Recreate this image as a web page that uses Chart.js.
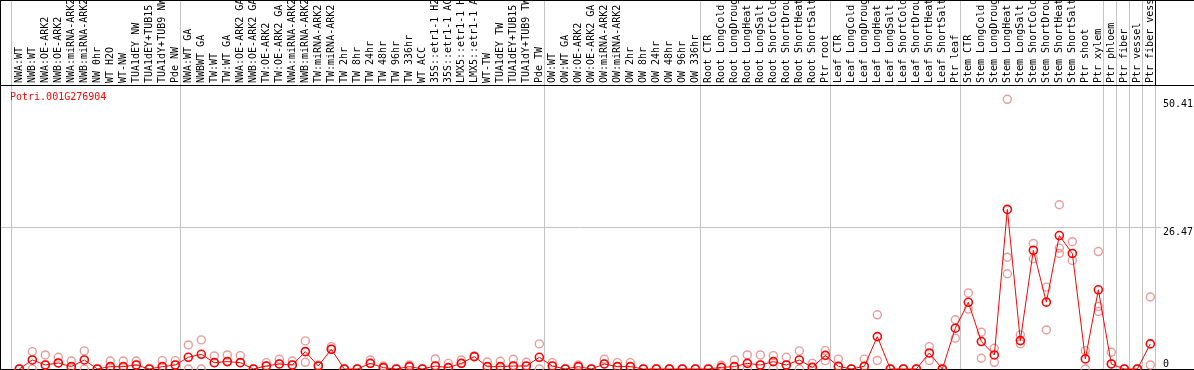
<!DOCTYPE html>
<html>
<head>
<meta charset="utf-8">
<script src="https://cdn.jsdelivr.net/npm/chart.js@4.4.1/dist/chart.umd.min.js"></script>
<style>
  html, body { margin: 0; padding: 0; background: #fff; }
  canvas { display: block; }
</style>
</head>
<body>
<canvas id="chart" width="1194" height="370"></canvas>
<script>
const geneId = 'Potri.001G276904';

const samples = [
  'NWA:WT', 'NWB:WT', 'NWA:OE-ARK2', 'NWB:OE-ARK2', 'NWA:miRNA-ARK2', 'NWB:miRNA-ARK2',
  'NW 0hr', 'WT H2O', 'WT-NW', 'TUA1dEY NW', 'TUA1dEY+TUB15 NW', 'TUA1dY+TUB9 NW', 'Pde NW',
  'NWA:WT GA', 'NWBWT GA', 'TW:WT', 'TW:WT GA', 'NWA:OE-ARK2 GA', 'NWB:OE-ARK2 GA',
  'TW:OE-ARK2', 'TW:OE-ARK2 GA', 'NWA:miRNA-ARK2 GA', 'NWB:miRNA-ARK2 GA', 'TW:miRNA-ARK2',
  'TW:miRNA-ARK2 GA', 'TW 2hr', 'TW 8hr', 'TW 24hr', 'TW 48hr', 'TW 96hr', 'TW 336hr', 'WT ACC',
  '35S::etr1-1 H2O', '35S::etr1-1 ACC', 'LMX5::etr1-1 H2O', 'LMX5::etr1-1 ACC', 'WT-TW',
  'TUA1dEY TW', 'TUA1dEY+TUB15 TW', 'TUA1dY+TUB9 TW', 'Pde TW',
  'OW:WT', 'OW:WT GA', 'OW:OE-ARK2', 'OW:OE-ARK2 GA', 'OW:miRNA-ARK2', 'OW:miRNA-ARK2 GA',
  'OW 2hr', 'OW 8hr', 'OW 24hr', 'OW 48hr', 'OW 96hr', 'OW 336hr',
  'Root CTR', 'Root LongCold', 'Root LongDrought', 'Root LongHeat', 'Root LongSalt',
  'Root ShortCold', 'Root ShortDrought', 'Root ShortHeat', 'Root ShortSalt', 'Ptr root',
  'Leaf CTR', 'Leaf LongCold', 'Leaf LongDrought', 'Leaf LongHeat', 'Leaf LongSalt',
  'Leaf ShortCold', 'Leaf ShortDrought', 'Leaf ShortHeat', 'Leaf ShortSalt', 'Ptr leaf',
  'Stem CTR', 'Stem LongCold', 'Stem LongDrought', 'Stem LongHeat', 'Stem LongSalt',
  'Stem ShortCold', 'Stem ShortDrought', 'Stem ShortHeat', 'Stem ShortSalt', 'Ptr shoot', 'Ptr xylem',
  'Ptr phloem', 'Ptr fiber', 'Ptr vessel', 'Ptr fiber vessel'
];

// first sample index of each group (last entry closes the final group)
const groupStarts = [0, 13, 41, 53, 63, 73, 84, 85, 86, 87, 88];

const meanValues = [
  0, 1.69, 0.75, 1.13, 0.44, 1.69, 0, 0.44, 0.44, 0.75,
  0, 0.44, 0.75, 2.19, 2.75, 1.19, 1.38, 1.19, 0, 0.56,
  0.94, 0.75, 3.25, 0.56, 3.69, 0, 0, 1.06, 0.25, 0,
  0.44, 0, 0.56, 0.25, 1.06, 2.31, 0.44, 0.44, 0.56, 0.56,
  2.19, 0.56, 0, 0.44, 0, 0.94, 0.44, 0.44, 0, 0,
  0, 0, 0, 0, 0.31, 0.44, 1.06, 0.75, 1.38, 0.75,
  1.69, 0.31, 2.55, 0.5, 0, 0.5, 6.06, 0, 0, 0,
  3.0, 0, 7.63, 12.47, 5.13, 2.63, 29.83, 5.31, 22.2, 12.5,
  24.95, 21.6, 1.88, 14.8, 0.94, 0, 0, 4.69
];

const repHigh = [
  0, 3.25, 2.63, 2.19, 1.5, 3.38, 0, 1.5, 1.5, 1.5,
  0, 1.56, 1.56, 4.5, 5.44, 2.44, 2.63, 2.5, 0, 1.19,
  1.81, 1.5, 5.25, 0.75, 4.19, 0, 0, 1.69, 0.56, 0,
  0.75, 0, 1.88, 1.06, 1.69, 2.44, 1.31, 1.44, 1.81, 1.25,
  4.69, 1.19, 0, 0.75, 0, 1.81, 1.19, 1.19, 0, 0,
  0, 0, 0, 0, 0.69, 1.69, 2.63, 2.63, 2.5, 2.19,
  3.38, 1.06, 3.44, 1.85, 0, 1.85, 10.13, 0, 0, 0,
  4.19, 0, 9.2, 14.2, 6.88, 3.88, 50.41, 6.38, 23.45, 15.3,
  30.7, 23.8, 3.44, 21.95, 3.13, 0, 0, 13.45
];

const repLow = [
  0, 0, 0.75, 1.13, 0.44, 0, 0, 0.44, 0.44, 0.75,
  0, 0.44, 0.75, 0, 0, 1.19, 1.38, 1.19, 0, 0.56,
  0.94, 0.75, 1.25, 0.56, 3.69, 0, 0, 1.06, 0.25, 0,
  0.44, 0, 0.56, 0.25, 1.06, 2.31, 0.44, 0.44, 0.56, 0.56,
  0, 0.56, 0, 0.44, 0, 0.94, 0.44, 0.44, 0, 0,
  0, 0, 0, 0, 0.31, 0.44, 0, 0.75, 0, 0.75,
  0, 0.31, 1.56, 0.5, 0, 0.5, 1.6, 0, 0, 0,
  1.6, 0, 5.75, 11.2, 2.0, 1.25, 17.8, 4.69, 20.6, 7.3,
  22.6, 20.3, 0, 11.7, 0.94, 0, 0, 0.75
];

const repThird = [
  null, null, null, null, null, null, null, null, null, null,
  null, null, null, null, null, null, null, null, null, null,
  null, null, null, null, null, null, null, null, null, null,
  null, null, null, null, null, null, null, null, null, null,
  null, null, null, null, null, null, null, null, null, null,
  null, null, null, null, null, null, null, null, null, null,
  null, null, null, null, null, null, null, null, null, null,
  null, null, null, null, null, null, 20.9, null, null, null,
  21.6, null, null, 10.75, null, null, null, null
];

const yTicks = [0, 26.47, 50.41];

// layout constants
const xMin = -1.485;
const xMax = 87.82;
const yMax = 52.9;
const sepShift = -0.62;
const monoFont = '"DejaVu Sans Mono", monospace';

const toPoints = arr => arr
  .map((v, i) => (v === null ? null : { x: i, y: v }))
  .filter(p => p !== null);

const repStyle = {
  showLine: false,
  pointRadius: 4,
  pointBorderWidth: 1.4,
  pointBorderColor: '#eb9b9b',
  pointBackgroundColor: 'rgba(0,0,0,0)',
  clip: false,
  xAxisID: 'x',
  yAxisID: 'y'
};

const noPadding = axis => {
  axis.paddingLeft = 0;
  axis.paddingRight = 0;
  axis.paddingTop = 0;
  axis.paddingBottom = 0;
};

const framePlugin = {
  id: 'frame',
  beforeDatasetsDraw(chart) {
    const { ctx, chartArea, width, height } = chart;
    const x = chart.scales.x;
    const y = chart.scales.y;
    ctx.save();
    ctx.lineWidth = 1;
    groupStarts.forEach((s, i) => {
      const px = Math.round(x.getPixelForValue(s + sepShift)) + 0.5;
      ctx.strokeStyle = '#c4c4c4';
      ctx.beginPath();
      ctx.moveTo(px, 0);
      ctx.lineTo(px, chartArea.bottom);
      ctx.stroke();
      if (i === groupStarts.length - 1) {
        ctx.strokeStyle = '#000';
        ctx.beginPath();
        ctx.moveTo(px, 0);
        ctx.lineTo(px, chartArea.top);
        ctx.stroke();
      }
    });
    const base = Math.round(y.getPixelForValue(0)) + 0.5;
    ctx.strokeStyle = '#000';
    ctx.beginPath();
    ctx.moveTo(0.5, 0);
    ctx.lineTo(0.5, height);
    ctx.moveTo(0, 0.5);
    ctx.lineTo(width, 0.5);
    ctx.moveTo(0, chartArea.top - 0.5);
    ctx.lineTo(width, chartArea.top - 0.5);
    ctx.moveTo(0, base);
    ctx.lineTo(width, base);
    ctx.stroke();

    ctx.fillStyle = '#ff0000';
    ctx.font = '10px ' + monoFont;
    ctx.textBaseline = 'middle';
    ctx.textAlign = 'left';
    ctx.fillText(geneId, chartArea.left + 10, chartArea.top + 11);
    ctx.restore();
  }
};

new Chart(document.getElementById('chart'), {
  type: 'line',
  data: {
    datasets: [
      {
        label: geneId,
        data: toPoints(meanValues),
        borderColor: '#ff0000',
        borderWidth: 1,
        tension: 0,
        pointRadius: 4,
        pointBorderWidth: 1.6,
        pointBorderColor: '#ff0000',
        pointBackgroundColor: 'rgba(0,0,0,0)',
        clip: false,
        xAxisID: 'x',
        yAxisID: 'y'
      },
      Object.assign({ label: 'rep 1', data: toPoints(repHigh) }, repStyle),
      Object.assign({ label: 'rep 2', data: toPoints(repLow) }, repStyle),
      Object.assign({ label: 'rep 3', data: toPoints(repThird) }, repStyle)
    ]
  },
  options: {
    responsive: false,
    animation: false,
    events: [],
    layout: { autoPadding: false, padding: { left: 0, right: 0, top: 0, bottom: 1 } },
    plugins: {
      legend: { display: false },
      tooltip: { enabled: false }
    },
    scales: {
      x: {
        type: 'linear',
        position: 'bottom',
        display: false,
        min: xMin,
        max: xMax
      },
      xTop: {
        type: 'linear',
        axis: 'x',
        position: 'top',
        min: xMin,
        max: xMax,
        afterBuildTicks: axis => {
          axis.ticks = samples.map((_, i) => ({ value: i }));
        },
        afterFit: axis => {
          axis.height = 86;
          noPadding(axis);
        },
        grid: { display: false, drawTicks: false },
        border: { display: false },
        ticks: {
          autoSkip: false,
          minRotation: 90,
          maxRotation: 90,
          padding: 3,
          labelOffset: 12,
          color: '#000',
          font: { family: monoFont, size: 10 },
          callback: value => samples[value]
        }
      },
      y: {
        type: 'linear',
        position: 'right',
        min: 0,
        max: yMax,
        afterBuildTicks: axis => {
          axis.ticks = yTicks.map(v => ({ value: v }));
        },
        afterFit: axis => {
          axis.width = 33;
          noPadding(axis);
        },
        border: { display: false },
        grid: {
          drawTicks: false,
          color: ctx => (ctx.tick && ctx.tick.value === yTicks[1] ? '#c4c4c4' : 'rgba(0,0,0,0)')
        },
        ticks: {
          padding: 2,
          color: '#000',
          font: { family: monoFont, size: 10, lineHeight: 1 },
          callback: v => (v === 0 ? ['0', ''] : ['', String(v)])
        }
      }
    }
  },
  plugins: [framePlugin]
});
</script>
</body>
</html>
